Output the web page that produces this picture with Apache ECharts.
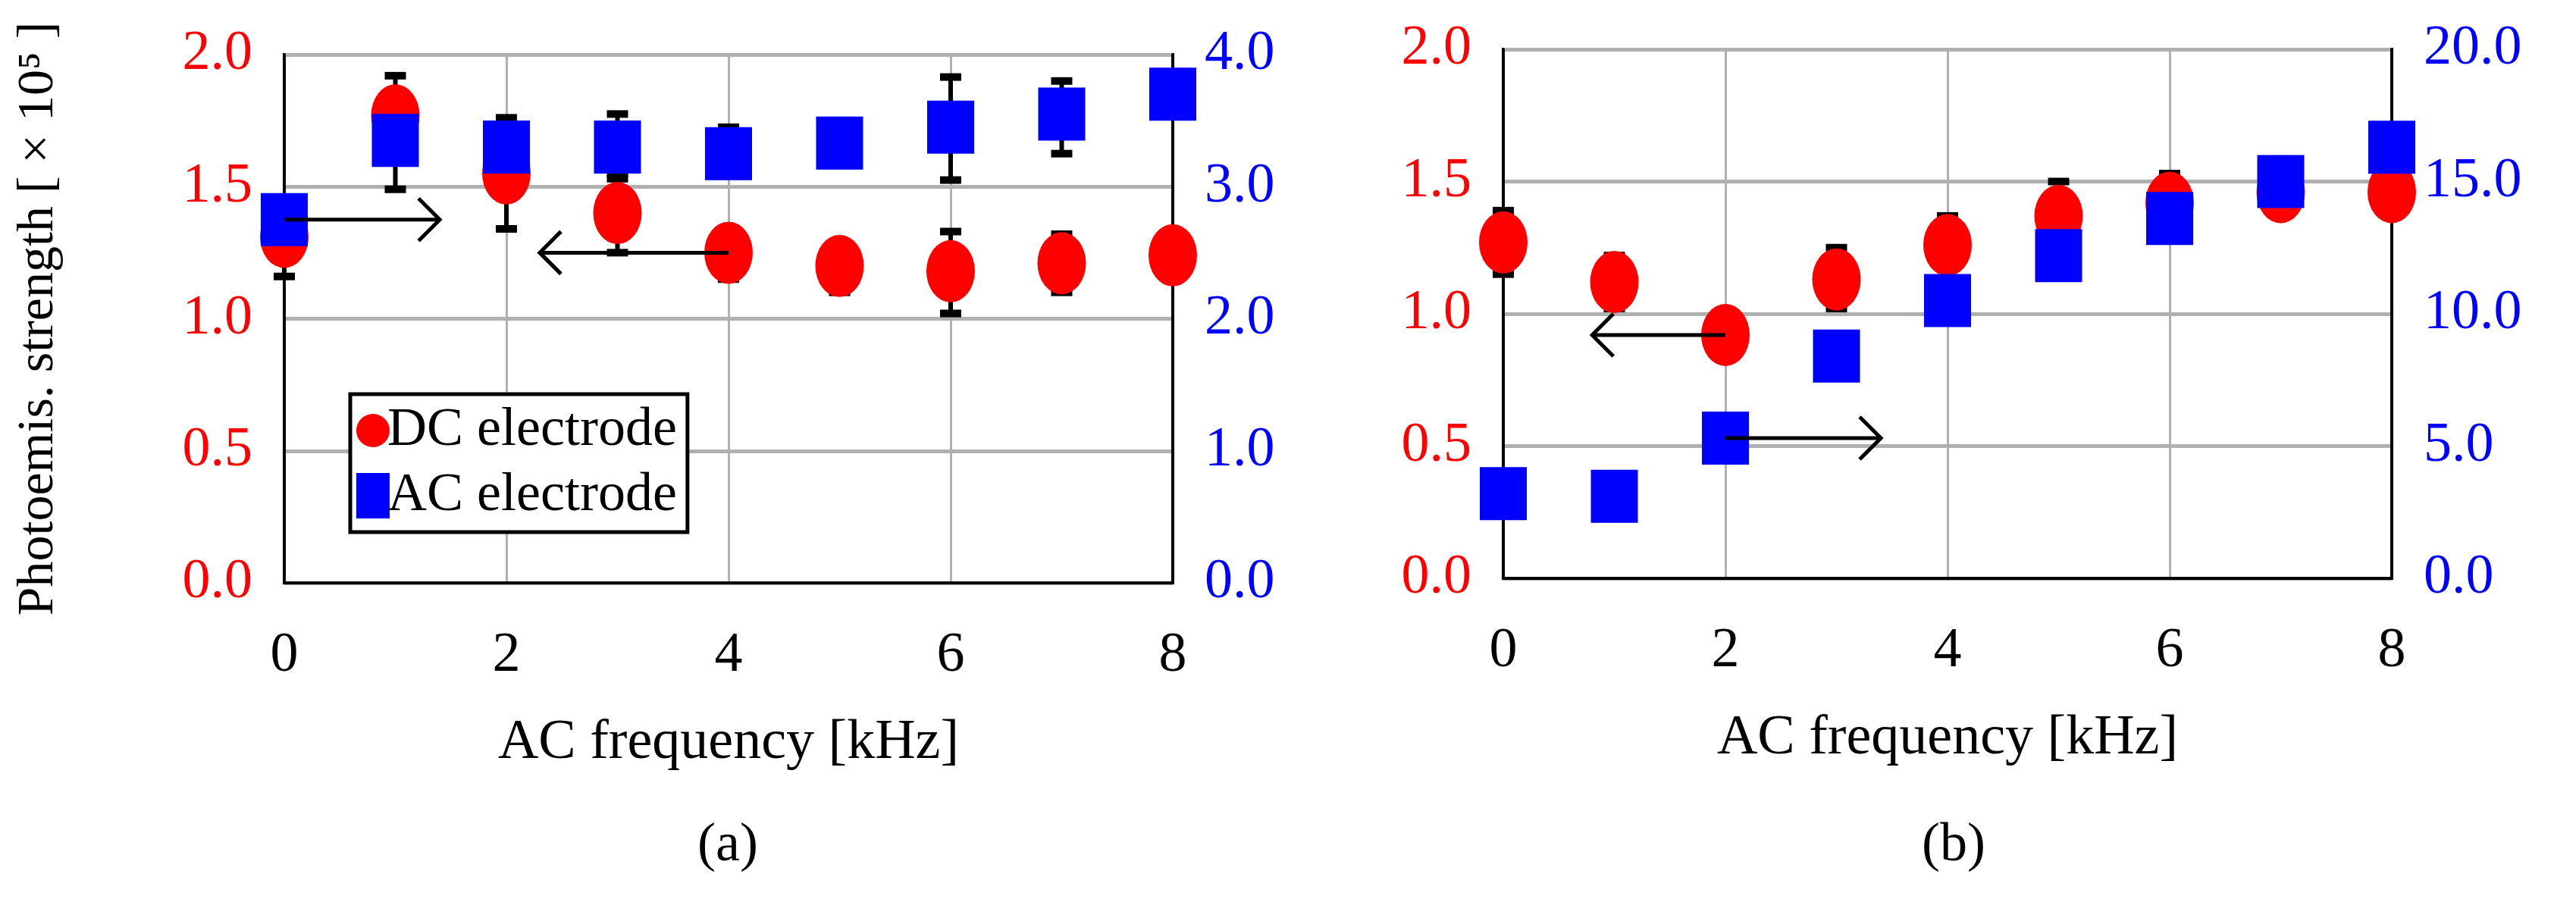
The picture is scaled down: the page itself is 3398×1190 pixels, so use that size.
<!DOCTYPE html>
<html>
<head>
<meta charset="utf-8">
<script src="https://cdn.jsdelivr.net/npm/echarts@6/dist/echarts.min.js"></script>
<style>html,body{margin:0;background:#fff}#chart{width:3398px;height:1190px}</style>
</head>
<body>
<div id="chart"></div>
<script>
var freq = [0, 1, 2, 3, 4, 5, 6, 7, 8];
var dcA = [1.31, 1.77, 1.55, 1.40, 1.25, 1.20, 1.18, 1.21, 1.24];
var dcAlo = [1.16, 1.49, 1.34, 1.25, 1.15, 1.10, 1.02, 1.10, 1.17];
var dcAhi = [1.45, 1.92, 1.76, 1.53, 1.34, 1.29, 1.33, 1.32, 1.32];
var acA = [2.75, 3.35, 3.30, 3.30, 3.25, 3.33, 3.45, 3.55, 3.70];
var acAlo = [2.60, 3.20, 3.10, 3.10, 3.10, 3.20, 3.05, 3.25, 3.55];
var acAhi = [2.90, 3.50, 3.52, 3.55, 3.45, 3.40, 3.83, 3.80, 3.85];
var dcB = [1.27, 1.12, 0.92, 1.13, 1.26, 1.37, 1.42, 1.46, 1.46];
var dcBlo = [1.15, 1.02, 0.92, 1.02, 1.13, 1.23, 1.35, 1.44, 1.37];
var dcBhi = [1.39, 1.22, 0.92, 1.25, 1.37, 1.50, 1.53, 1.48, 1.50];
var acB = [3.2, 3.1, 5.3, 8.4, 10.5, 12.2, 13.6, 15.0, 16.3];
var legendNames = ['DC electrode', 'AC electrode'];

var font = 'Liberation Serif';
var chart = echarts.init(document.getElementById('chart'));

function errData(lo, hi) {
    return freq.map(function (x, i) { return [x, lo[i], hi[i]]; });
}
function errItem(params, api) {
    var x = api.value(0);
    var a = api.coord([x, api.value(1)]);
    var b = api.coord([x, api.value(2)]);
    var w = 14;
    return {type: 'group', children: [
        {type: 'line', shape: {x1: a[0], y1: a[1], x2: b[0], y2: b[1]}, style: {stroke: '#000', lineWidth: 6}},
        {type: 'line', shape: {x1: a[0] - w, y1: a[1], x2: a[0] + w, y2: a[1]}, style: {stroke: '#000', lineWidth: 10}},
        {type: 'line', shape: {x1: b[0] - w, y1: b[1], x2: b[0] + w, y2: b[1]}, style: {stroke: '#000', lineWidth: 10}}
    ]};
}
function arrowItem(params, api) {
    var a = api.coord([api.value(0), api.value(2)]);
    var b = api.coord([api.value(1), api.value(2)]);
    var d = b[0] > a[0] ? -1 : 1;
    var st = {stroke: '#000', lineWidth: 5, fill: null};
    return {type: 'group', children: [
        {type: 'line', shape: {x1: a[0], y1: a[1], x2: b[0], y2: b[1]}, style: st},
        {type: 'polyline', shape: {points: [[b[0] + d * 28, b[1] - 28], [b[0], b[1]], [b[0] + d * 28, b[1] + 28]]}, style: st}
    ]};
}

var grids = [
    {left: 375, top: 72, width: 1172, height: 697},
    {left: 1983, top: 65, width: 1172, height: 698}
];
var xAxes = [], yAxes = [];
[0, 1].forEach(function (g) {
    grids[g].show = true;
    grids[g].borderColor = '#000';
    grids[g].borderWidth = 4;
    xAxes.push({
        type: 'value', gridIndex: g, min: 0, max: 8, interval: 2,
        name: 'AC frequency [kHz]', nameLocation: 'middle', nameGap: 175,
        nameTextStyle: {fontFamily: font, fontSize: 74, color: '#000'},
        axisLine: {lineStyle: {color: '#000', width: 4}}, axisTick: {show: false},
        axisLabel: {fontFamily: font, fontSize: 74, color: '#000', margin: 60},
        splitLine: {lineStyle: {color: '#b0b0b0', width: 3}}
    });
    yAxes.push({
        type: 'value', gridIndex: g, min: 0, max: 2, interval: 0.5, position: 'left',
        axisLine: {show: true, lineStyle: {color: '#000', width: 4}}, axisTick: {show: false},
        axisLabel: {fontFamily: font, fontSize: 74, color: '#ff0000', margin: 42,
            formatter: function (v) { return v.toFixed(1); }},
        splitLine: {lineStyle: {color: '#b0b0b0', width: 5}},
        name: g === 0 ? 'Photoemis. strength [ × 10⁵ ]' : '', nameLocation: 'middle', nameGap: 290,
        nameTextStyle: {fontFamily: font, fontSize: 68, color: '#000'}
    });
    yAxes.push({
        type: 'value', gridIndex: g, min: 0, max: g === 0 ? 4 : 20, interval: g === 0 ? 1 : 5, position: 'right',
        axisLine: {show: true, lineStyle: {color: '#000', width: 4}}, axisTick: {show: false},
        axisLabel: {fontFamily: font, fontSize: 74, color: '#0000ff', margin: 42,
            formatter: function (v) { return v.toFixed(1); }},
        splitLine: {show: false}
    });
});

function pts(arr) { return freq.map(function (x, i) { return [x, arr[i]]; }); }
var redStyle = {color: '#ff0000', opacity: 1}, blueStyle = {color: '#0000ff', opacity: 1};
var series = [
    {type: 'custom', xAxisIndex: 0, yAxisIndex: 0, renderItem: errItem, data: errData(dcAlo, dcAhi), z: 1},
    {type: 'custom', xAxisIndex: 0, yAxisIndex: 1, renderItem: errItem, data: errData(acAlo, acAhi), z: 1},
    {type: 'custom', xAxisIndex: 1, yAxisIndex: 2, renderItem: errItem, data: errData(dcBlo, dcBhi), z: 1},
    {name: legendNames[0], type: 'scatter', xAxisIndex: 0, yAxisIndex: 0, data: pts(dcA), symbol: 'circle', symbolSize: [64, 82], itemStyle: redStyle, z: 10},
    {name: legendNames[1], type: 'scatter', xAxisIndex: 0, yAxisIndex: 1, data: pts(acA), symbol: 'rect', symbolSize: [62, 70], itemStyle: blueStyle, z: 11},
    {type: 'scatter', xAxisIndex: 1, yAxisIndex: 2, data: pts(dcB), symbol: 'circle', symbolSize: [64, 82], itemStyle: redStyle, z: 10},
    {type: 'scatter', xAxisIndex: 1, yAxisIndex: 3, data: pts(acB), symbol: 'rect', symbolSize: [62, 70], itemStyle: blueStyle, z: 11},
    {type: 'custom', xAxisIndex: 0, yAxisIndex: 1, renderItem: arrowItem, data: [[0, 1.4, 2.75]], z: 12},
    {type: 'custom', xAxisIndex: 0, yAxisIndex: 0, renderItem: arrowItem, data: [[4, 2.3, 1.25]], z: 12},
    {type: 'custom', xAxisIndex: 1, yAxisIndex: 2, renderItem: arrowItem, data: [[2, 0.8, 0.92]], z: 12},
    {type: 'custom', xAxisIndex: 1, yAxisIndex: 3, renderItem: arrowItem, data: [[2, 3.4, 5.3]], z: 12}
];

chart.setOption({
    animation: false,
    grid: grids,
    xAxis: xAxes,
    yAxis: yAxes,
    legend: {
        data: legendNames, orient: 'vertical', left: 462, top: 520,
        backgroundColor: '#fff', borderColor: '#000', borderWidth: 5,
        padding: [12, 14, 12, 8], itemGap: 14, itemWidth: 44, itemHeight: 60,
        itemStyle: {opacity: 1},
        textStyle: {fontFamily: font, fontSize: 72, color: '#000', padding: [0, 0, 0, -8]}
    },
    graphic: [
        {type: 'text', left: 920, top: 1080, style: {text: '(a)', font: '72px "Liberation Serif"', fill: '#000'}},
        {type: 'text', left: 2535, top: 1080, style: {text: '(b)', font: '72px "Liberation Serif"', fill: '#000'}}
    ],
    series: series
});
</script>
</body>
</html>
